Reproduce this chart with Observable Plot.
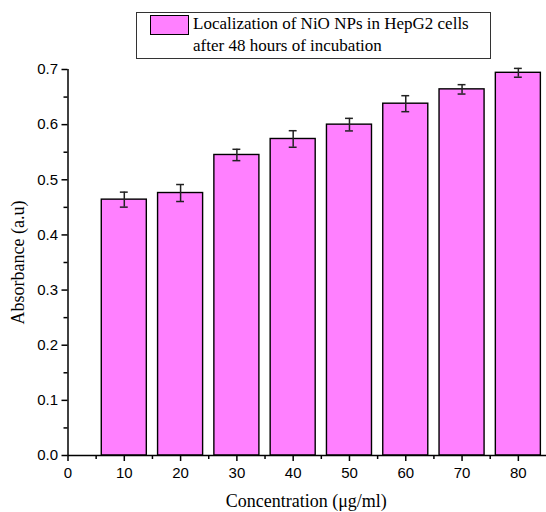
<!DOCTYPE html>
<html>
<head>
<meta charset="utf-8">
<script src="https://cdn.jsdelivr.net/npm/d3@7"></script>
<script src="https://cdn.jsdelivr.net/npm/@observablehq/plot@0.6"></script>
<style>
  html, body { margin: 0; padding: 0; background: #fff; }
  #wrap { position: relative; width: 546px; height: 512px; overflow: hidden; }
  #legend {
    position: absolute; left: 136px; top: 12px; width: 355px; height: 47px;
    border: 1px solid #333; box-sizing: border-box; background: #fff;
    font-family: "Liberation Serif", "Times New Roman", serif; font-size: 17px; color: #000;
  }
  #legend .sw { position: absolute; left: 13px; top: 2px; width: 39px; height: 20px;
    background: #ff80ff; border: 1px solid #000; box-sizing: border-box; }
  #legend .t { position: absolute; left: 56px; top: 0px; line-height: 22px; white-space: nowrap;
    font-family: "Liberation Serif", "Times New Roman", serif; }
</style>
</head>
<body>
<div id="wrap">
  <div id="chart"></div>
  <div id="legend"><div class="sw"></div><div class="t">Localization of NiO NPs in HepG2 cells<br>after 48 hours of incubation</div></div>
</div>
<script>
const concentrations = [10, 20, 30, 40, 50, 60, 70, 80];
const absorbance = [0.464, 0.476, 0.545, 0.574, 0.600, 0.638, 0.664, 0.694];
const errors = [0.0136, 0.0154, 0.0103, 0.015, 0.0114, 0.0145, 0.0085, 0.008];
const xTicks = [0, 10, 20, 30, 40, 50, 60, 70, 80];
const xMinorTicks = [5, 15, 25, 35, 45, 55, 65, 75];
const yTicks = [0, 0.1, 0.2, 0.3, 0.4, 0.5, 0.6, 0.7];
const yMinorTicks = [0.05, 0.15, 0.25, 0.35, 0.45, 0.55, 0.65];
const xLabel = "Concentration (\u03bcg/ml)";
const yLabel = "Absorbance (a.u)";

const data = concentrations.map((c, i) => ({c, v: absorbance[i], e: errors[i]}));
const barHalf = 4;
const capHalf = 0.7;
const serif = "'Liberation Serif', 'Times New Roman', serif";
const sans = "'Liberation Sans', Arial, sans-serif";

const chart = Plot.plot({
  width: 546,
  height: 512,
  marginLeft: 67.5,
  marginRight: 0,
  marginTop: 69,
  marginBottom: 57,
  style: {fontFamily: sans, fontSize: "15px", color: "#000", background: "#fff"},
  x: {domain: [0, 85]},
  y: {domain: [0, 0.7]},
  marks: [
    Plot.rect(data, {x1: d => d.c - barHalf, x2: d => d.c + barHalf, y1: 0, y2: "v",
      fill: "#ff80ff", stroke: "#000", strokeWidth: 1.4}),
    Plot.ruleX(data, {x: "c", y1: d => d.v - d.e, y2: d => d.v + d.e, stroke: "#222", strokeWidth: 1.5}),
    Plot.ruleY(data, {y: d => d.v + d.e, x1: d => d.c - capHalf, x2: d => d.c + capHalf, stroke: "#222", strokeWidth: 1.5}),
    Plot.ruleY(data, {y: d => d.v - d.e, x1: d => d.c - capHalf, x2: d => d.c + capHalf, stroke: "#222", strokeWidth: 1.5}),
    Plot.axisY({ticks: yTicks, tickFormat: d3.format(".1f"), tickSize: 6, tickPadding: 4, label: null,
      strokeWidth: 1.5, fontSize: 15, fontFamily: sans}),
    Plot.axisY({ticks: yMinorTicks, tickFormat: () => "", tickSize: 4, label: null, strokeWidth: 1.5}),
    Plot.axisX({ticks: xTicks, tickFormat: d3.format("d"), tickSize: 6, tickPadding: 6, label: null,
      strokeWidth: 1.5, fontSize: 15, fontFamily: sans}),
    Plot.axisX({ticks: xMinorTicks, tickFormat: () => "", tickSize: 4, label: null, strokeWidth: 1.5}),
    Plot.ruleX([0], {y1: 0, y2: 0.7, stroke: "#000", strokeWidth: 1.5}),
    Plot.ruleY([0], {stroke: "#000", strokeWidth: 1.5}),
    Plot.text([yLabel], {text: d => d, frameAnchor: "left", dx: -49.5, rotate: -90,
      textAnchor: "middle", lineAnchor: "middle",
      fontFamily: serif, fontSize: 18, fill: "#000"}),
    Plot.text([xLabel], {text: d => d, frameAnchor: "bottom", dx: -1, dy: 46,
      textAnchor: "middle", lineAnchor: "middle",
      fontFamily: serif, fontSize: 18, fill: "#000"})
  ]
});
document.getElementById("chart").appendChild(chart);
</script>
</body>
</html>
